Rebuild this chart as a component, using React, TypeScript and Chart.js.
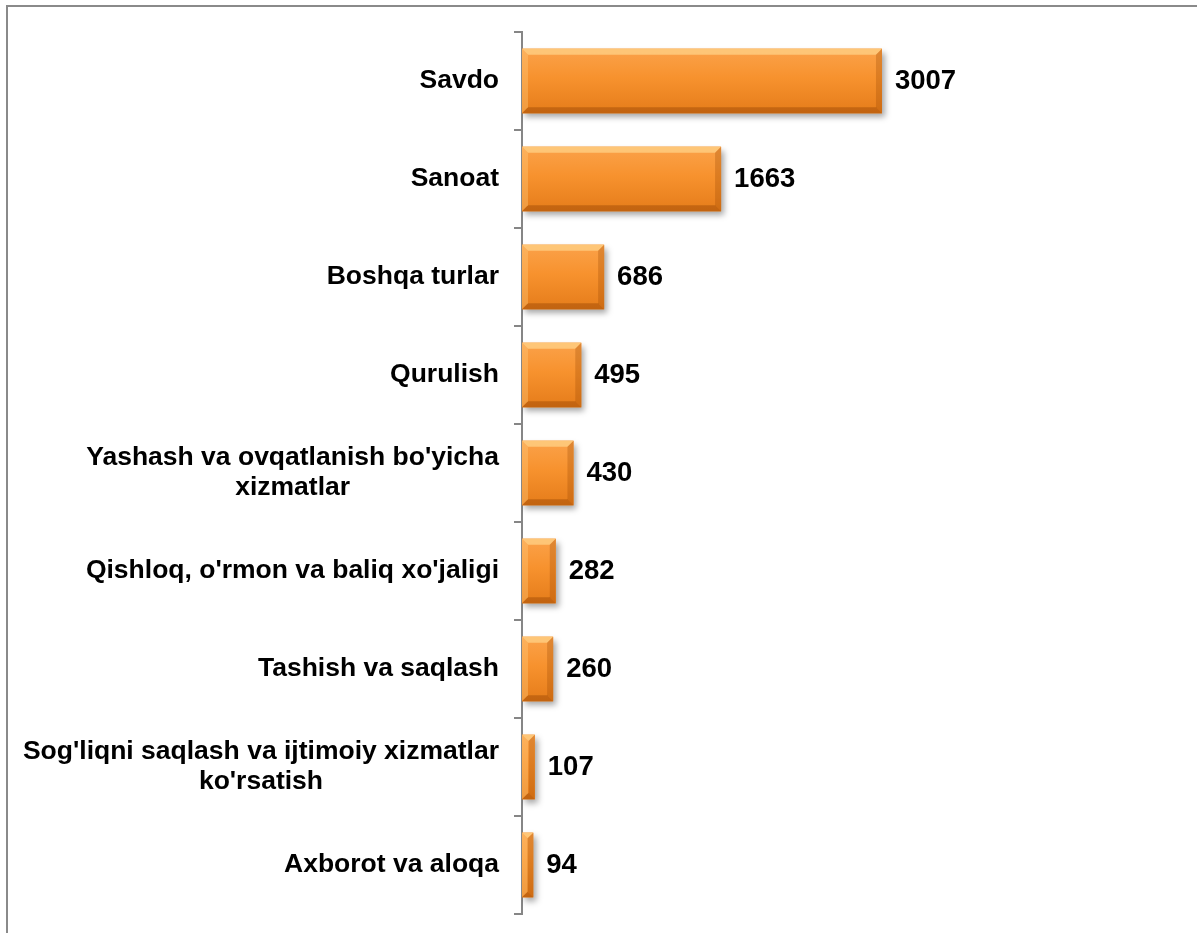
import { useEffect, useRef } from "react";
import { Chart, registerables } from "chart.js";
Chart.register(...registerables);

const categories: string[][] = [
  ["Savdo"],
  ["Sanoat"],
  ["Boshqa turlar"],
  ["Qurulish"],
  ["Yashash va ovqatlanish bo'yicha", "xizmatlar"],
  ["Qishloq, o'rmon va baliq xo'jaligi"],
  ["Tashish va saqlash"],
  ["Sog'liqni saqlash va ijtimoiy xizmatlar", "ko'rsatish"],
  ["Axborot va aloqa"],
];
const values = [3007, 1663, 686, 495, 430, 282, 260, 107, 94];
const axisMax = 3500;

const FONT = '"Liberation Sans", Arial, sans-serif';

const shadowPlugin = {
  id: "barShadow",
  beforeDatasetDraw(chart: any) {
    const ctx = chart.ctx;
    ctx.save();
    ctx.shadowColor = "rgba(0,0,0,0.35)";
    ctx.shadowBlur = 6;
    ctx.shadowOffsetX = 3;
    ctx.shadowOffsetY = 4;
  },
  afterDatasetDraw(chart: any) {
    chart.ctx.restore();
  },
};

const bevelPlugin = {
  id: "barBevel",
  afterDatasetsDraw(chart: any) {
    const ctx = chart.ctx;
    const meta = chart.getDatasetMeta(0);
    meta.data.forEach((el: any) => {
      const x0 = Math.min(el.base, el.x);
      const x1 = Math.max(el.base, el.x);
      const y0 = el.y - el.height / 2;
      const y1 = el.y + el.height / 2;
      const w = x1 - x0;
      const h = y1 - y0;
      const b = Math.min(6, w / 2, h / 2);
      ctx.save();
      const g = ctx.createLinearGradient(0, y0, 0, y1);
      g.addColorStop(0, "#FBA24A");
      g.addColorStop(0.45, "#F7922E");
      g.addColorStop(1, "#E57C1A");
      ctx.fillStyle = g;
      ctx.fillRect(x0, y0, w, h);
      ctx.fillStyle = "rgba(255,214,140,0.7)";
      ctx.beginPath();
      ctx.moveTo(x0, y0); ctx.lineTo(x1, y0); ctx.lineTo(x1 - b, y0 + b); ctx.lineTo(x0 + b, y0 + b); ctx.closePath(); ctx.fill();
      ctx.fillStyle = "rgba(255,200,120,0.4)";
      ctx.beginPath();
      ctx.moveTo(x0, y0); ctx.lineTo(x0 + b, y0 + b); ctx.lineTo(x0 + b, y1 - b); ctx.lineTo(x0, y1); ctx.closePath(); ctx.fill();
      ctx.fillStyle = "rgba(150,70,0,0.28)";
      ctx.beginPath();
      ctx.moveTo(x1, y0); ctx.lineTo(x1, y1); ctx.lineTo(x1 - b, y1 - b); ctx.lineTo(x1 - b, y0 + b); ctx.closePath(); ctx.fill();
      ctx.fillStyle = "rgba(140,60,0,0.38)";
      ctx.beginPath();
      ctx.moveTo(x0, y1); ctx.lineTo(x1, y1); ctx.lineTo(x1 - b, y1 - b); ctx.lineTo(x0 + b, y1 - b); ctx.closePath(); ctx.fill();
      ctx.restore();
    });
  },
};

const labelPlugin = {
  id: "customLabels",
  afterDraw(chart: any) {
    const ctx = chart.ctx;
    const yScale = chart.scales.y;
    const area = chart.chartArea;
    ctx.save();
    ctx.fillStyle = "#000";
    ctx.textBaseline = "middle";
    ctx.font = `bold 26.5px ${FONT}`;
    const lineH = 30;
    const rightX = area.left - 23;
    (chart.data.labels as string[][]).forEach((lines, i) => {
      const cy = yScale.getPixelForValue(i);
      const widths = lines.map((l) => ctx.measureText(l).width);
      const bw = Math.max(...widths);
      const cx = rightX - bw / 2;
      ctx.textAlign = "center";
      lines.forEach((l, j) => {
        ctx.fillText(l, cx, cy + (j - (lines.length - 1) / 2) * lineH);
      });
    });
    const meta = chart.getDatasetMeta(0);
    ctx.textAlign = "left";
    ctx.font = `bold 27.5px ${FONT}`;
    meta.data.forEach((el: any, i: number) => {
      ctx.fillText(String(chart.data.datasets[0].data[i]), el.x + 13, el.y);
    });
    ctx.restore();
  },
};

export default function App() {
  const ref = useRef<HTMLCanvasElement>(null);
  useEffect(() => {
    if (!ref.current) return;
    const chart = new Chart(ref.current, {
      type: "bar",
      data: {
        labels: categories as any,
        datasets: [
          {
            data: values,
            backgroundColor: "#F7922E",
            borderWidth: 0,
            barPercentage: 0.66,
            categoryPercentage: 1,
          },
        ],
      },
      options: {
        indexAxis: "y",
        animation: false,
        responsive: false,
        maintainAspectRatio: false,
        layout: { padding: { left: 0, right: 256, top: 32, bottom: 19 } },
        plugins: { legend: { display: false }, tooltip: { enabled: false } },
        scales: {
          x: { display: false, min: 0, max: axisMax },
          y: {
            ticks: { display: false },
            afterFit: (s: any) => {
              s.width = 522;
            },
            grid: {
              offset: true,
              drawOnChartArea: false,
              drawTicks: true,
              tickLength: 8,
              color: "#868686",
              lineWidth: 2,
            },
            border: { display: true, color: "#868686", width: 2 },
          },
        },
      },
      plugins: [shadowPlugin, bevelPlugin, labelPlugin],
    });
    return () => chart.destroy();
  }, []);
  return (
    <div style={{ position: "fixed", left: 0, top: 0, width: 1197, height: 933, background: "#fff", overflow: "hidden" }}>
      <div
        style={{
          position: "absolute",
          left: 6,
          top: 5,
          width: 1300,
          height: 1000,
          borderTop: "2px solid #8a8a8a",
          borderLeft: "2px solid #8a8a8a",
        }}
      />
      <canvas ref={ref} width={1197} height={933} style={{ position: "absolute", left: 0, top: 0 }} />
    </div>
  );
}
